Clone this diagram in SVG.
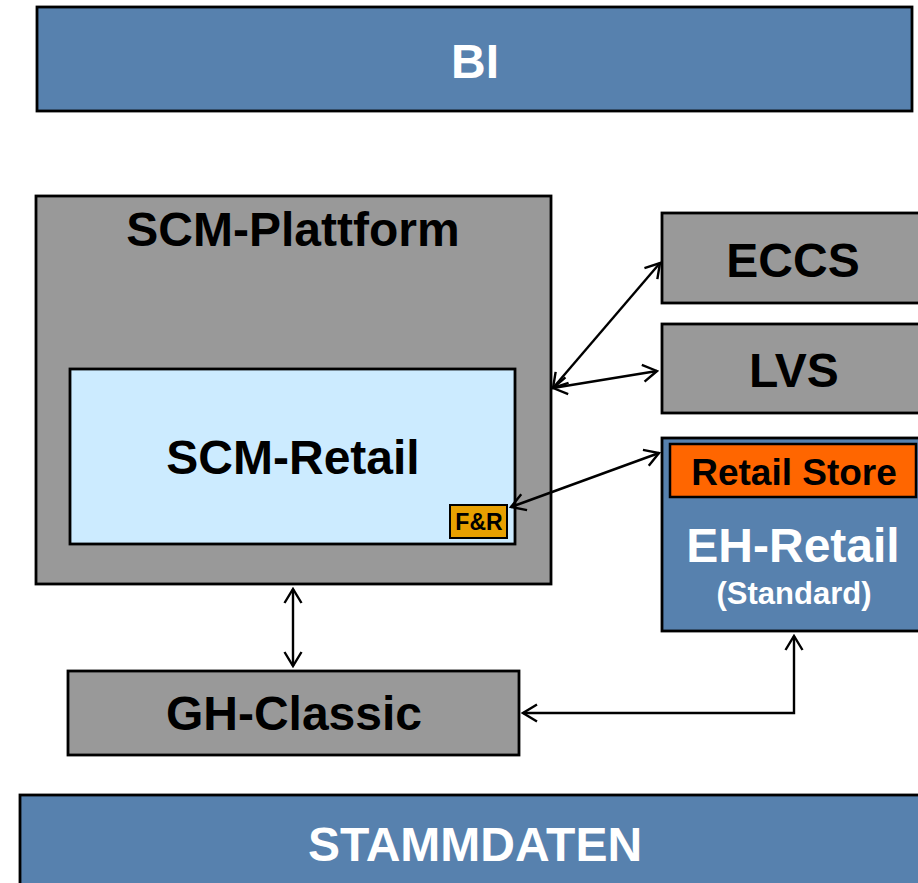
<svg xmlns="http://www.w3.org/2000/svg" width="918" height="883" viewBox="0 0 918 883">
<defs>
<marker id="ah" viewBox="-17 -10 19 20" refX="0" refY="0" markerWidth="19" markerHeight="20" markerUnits="userSpaceOnUse" orient="auto-start-reverse">
<path d="M-14,-8.5 L0,0 L-14,8.5" fill="none" stroke="#000" stroke-width="2.4"/>
</marker>
<style>
.box{stroke:#000;stroke-width:2.8}
.gray{fill:#999999}
.blue{fill:#5781AE}
.t{font-family:"Liberation Sans",Arial,sans-serif;font-weight:bold;text-anchor:middle}
.big{font-size:48px}
.w{fill:#fff}
.k{fill:#000}
.conn{fill:none;stroke:#000;stroke-width:2.4;marker-start:url(#ah);marker-end:url(#ah)}
</style>
</defs>
<g id="bi">
<rect class="box blue" x="37" y="7" width="875" height="104"/>
<text class="t big w" x="475" y="78">BI</text>
</g>
<g id="scm-plattform">
<rect class="box gray" x="36" y="196" width="515" height="388"/>
<text class="t big k" x="293" y="246">SCM-Plattform</text>
</g>
<g id="scm-retail">
<rect class="box" fill="#CCEBFF" x="70" y="369" width="445" height="175"/>
<text class="t big k" x="293" y="474">SCM-Retail</text>
</g>
<g id="fr">
<rect fill="#E8A000" stroke="#000" stroke-width="2" x="450" y="505" width="57" height="33"/>
<text class="t k" font-size="23" x="479" y="530">F&amp;R</text>
</g>
<g id="eccs">
<rect class="box gray" x="662" y="213" width="264" height="90"/>
<text class="t big k" x="793" y="277">ECCS</text>
</g>
<g id="lvs">
<rect class="box gray" x="662" y="324" width="264" height="89"/>
<text class="t big k" x="794" y="387">LVS</text>
</g>
<g id="eh-retail">
<rect class="box blue" x="662" y="438" width="264" height="193"/>
<text class="t big w" x="793" y="562">EH-Retail</text>
<text class="t w" font-size="31" x="794" y="604">(Standard)</text>
</g>
<g id="retail-store">
<rect fill="#FF6600" stroke="#000" stroke-width="2.5" x="670" y="444" width="246" height="53"/>
<text class="t k" font-size="37" x="794" y="485">Retail Store</text>
</g>
<g id="gh-classic">
<rect class="box gray" x="68" y="671" width="451" height="84"/>
<text class="t big k" x="294" y="730">GH-Classic</text>
</g>
<g id="stammdaten">
<rect class="box blue" x="20" y="795" width="910" height="100"/>
<text class="t big w" x="475" y="861">STAMMDATEN</text>
</g>
<g id="connectors">
<path class="conn" d="M553,388 L660,263"/>
<path class="conn" d="M553,388 L657,371"/>
<path class="conn" d="M511,507 L659,453"/>
<path class="conn" d="M293,589 L293,666"/>
<path class="conn" d="M523,713 L794,713 L794,636"/>
</g>
</svg>
